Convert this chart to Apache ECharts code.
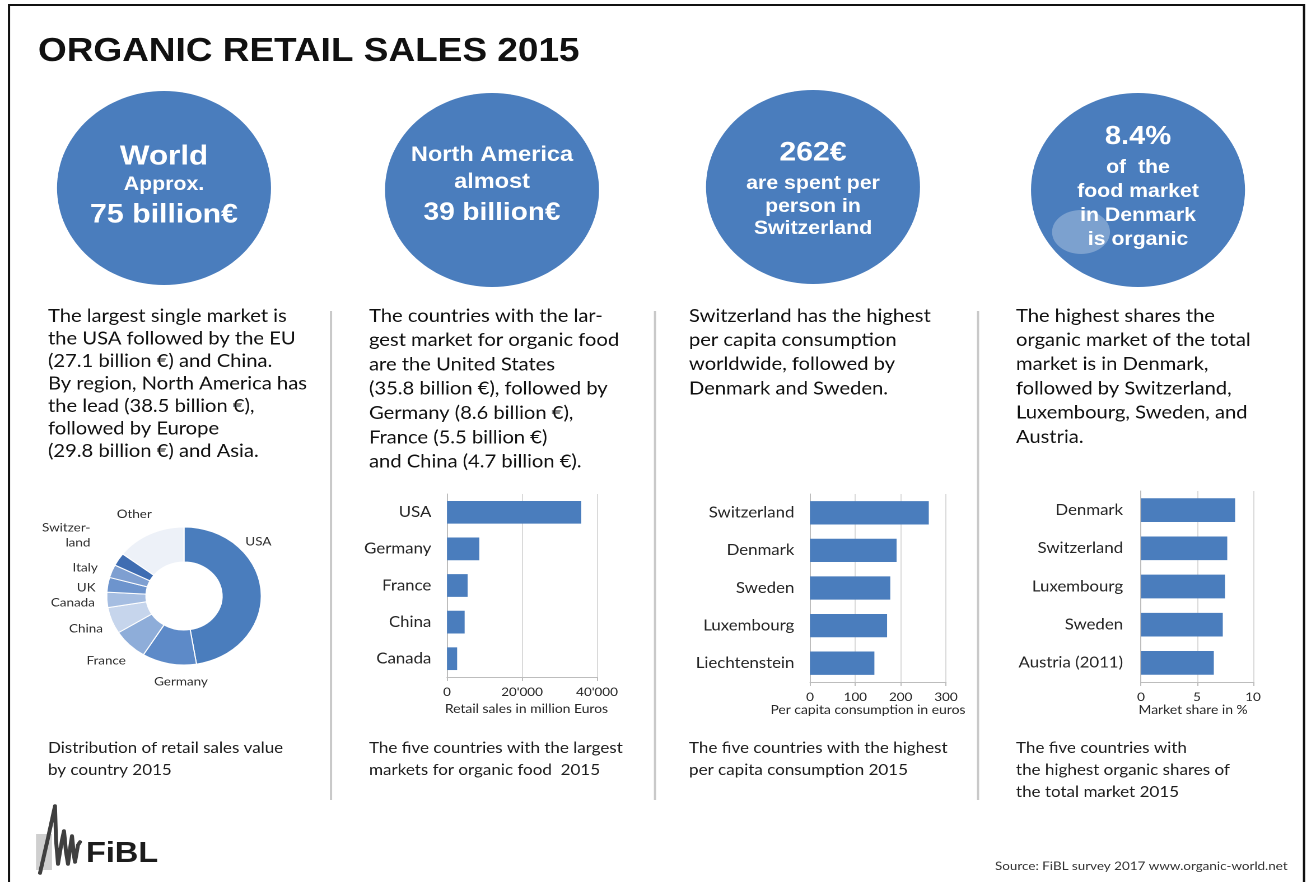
<!DOCTYPE html>
<html>
<head>
<meta charset="utf-8">
<title>Organic retail sales 2015</title>
<script src="https://cdn.jsdelivr.net/npm/echarts@6/dist/echarts.min.js"></script>
<style>
  html, body { margin: 0; padding: 0; background: #fff; overflow: hidden; }
  #chart { height: 882px; transform-origin: 0 0; }
</style>
</head>
<body>
<div id="chart"></div>
<script>
// ---- data ----
// Distribution of retail sales value by country 2015 (billion €)
const pieCountries = ['USA', 'Germany', 'France', 'China', 'Canada', 'UK', 'Italy', 'Switzerland', 'Other'];
const pieLabels = ['USA', 'Germany', 'France', 'China', 'Canada', 'UK', 'Italy', 'Switzer-\nland', 'Other'];
const pieSales = [35.8, 8.6, 5.5, 4.7, 2.7, 2.6, 2.3, 2.3, 11.0];
const pieColors = ['#4a7dbd', '#5d8ac8', '#8eadd9', '#c6d5ec', '#a5bde1', '#6d94cd', '#7e9fd1', '#3f6db2', '#edf1f8'];

// Five largest markets (million €)
const marketCountries = ['USA', 'Germany', 'France', 'China', 'Canada'];
const marketSales = [35800, 8600, 5500, 4700, 2700];
const marketTicks = [0, 20000, 40000];

// Highest per capita consumption (€)
const capitaCountries = ['Switzerland', 'Denmark', 'Sweden', 'Luxembourg', 'Liechtenstein'];
const capitaSpend = [262, 191, 177, 170, 142];
const capitaTicks = [0, 100, 200, 300];

// Highest organic market share (%)
const shareCountries = ['Denmark', 'Switzerland', 'Luxembourg', 'Sweden', 'Austria (2011)'];
const shareValues = [8.4, 7.7, 7.5, 7.3, 6.5];
const shareTicks = [0, 5, 10];

// ---- texts ----
const titleText = 'ORGANIC RETAIL SALES 2015';
const circleTexts = [
  [['World', 28], ['Approx.', 19], ['75 billion€', 27]],
  [['North America', 21], ['almost', 21], ['39 billion€', 25]],
  [['262€', 27], ['are spent per', 19], ['person in', 19], ['Switzerland', 19]],
  [['8.4%', 26], ['of  the', 19], ['food market', 19], ['in Denmark', 19], ['is organic', 19]]
];
const paragraphs = [
  ['The largest single market is', 'the USA followed by the EU', '(27.1 billion €) and China.',
   'By region, North America has', 'the lead (38.5 billion €),', 'followed by Europe', '(29.8 billion €) and Asia.'],
  ['The countries with the lar-', 'gest market for organic food', 'are the United States',
   '(35.8 billion €), followed by', 'Germany (8.6 billion €),', 'France (5.5 billion €)', 'and China (4.7 billion €).'],
  ['Switzerland has the highest', 'per capita consumption', 'worldwide, followed by', 'Denmark and Sweden.'],
  ['The highest shares the', 'organic market of the total', 'market is in Denmark,',
   'followed by Switzerland,', 'Luxembourg, Sweden, and', 'Austria.']
];
const captions = [
  ['Distribution of retail sales value', 'by country 2015'],
  ['The five countries with the largest', 'markets for organic food  2015'],
  ['The five countries with the highest', 'per capita consumption 2015'],
  ['The five countries with', 'the highest organic shares of', 'the total market 2015']
];
const sourceText = 'Source: FiBL survey 2017 www.organic-world.net';

// ---- layout ----
// The poster is laid out on a narrower canvas and widened horizontally.
const SX = 1.12;
const W = 1307 / SX;
const px = v => v / SX;               // page x -> canvas x

const dom = document.getElementById('chart');
dom.style.width = W + 'px';
dom.style.transform = 'scaleX(' + SX + ')';

const BLUE = '#4a7dbd';
const SANS = 'Lato, "Open Sans", sans-serif';
const HEAD = '"Liberation Sans", Arial, sans-serif';

const colX = [48, 369, 689, 1016];
const circleCenters = [[164, 188], [492, 190], [813, 187], [1138, 190]];
const circleLineY = [
  [157, 185, 215],
  [155, 182, 213],
  [153, 184, 207, 229],
  [137, 168, 192, 216, 240]
];
const paraLineH = [22.5, 24.3, 24.2, 24.2];
// nudges for the doughnut labels, in slice order
const pieLabelNudge = [[-31, -48], [42, 6], [6, 7], [2, 0], [0, -9], [2, -7], [2, -10], [-14, -18], [12, -9]];

const graphic = [];

// frame
graphic.push({
  type: 'rect', silent: true,
  shape: { x: px(9), y: 5, width: px(1304) - px(9), height: 900 },
  style: { fill: 'none', stroke: '#111', lineWidth: 2 }
});

// title
graphic.push({
  type: 'text', x: px(38), y: 52,
  style: { text: titleText, font: 'bold 33px ' + HEAD, fill: '#111', align: 'left', verticalAlign: 'middle' }
});

// headline circles
circleCenters.forEach(c => {
  graphic.push({
    type: 'ellipse', silent: true,
    shape: { cx: px(c[0]), cy: c[1], rx: px(107), ry: 97 },
    style: { fill: BLUE }
  });
});
// light spot on the last circle
graphic.push({
  type: 'ellipse', silent: true,
  shape: { cx: px(1081), cy: 232, rx: px(29), ry: 22 },
  style: { fill: 'rgba(255,255,255,0.28)' }
});
circleTexts.forEach((lines, i) => {
  lines.forEach((ln, j) => {
    graphic.push({
      type: 'text', x: px(circleCenters[i][0]), y: circleLineY[i][j],
      style: { text: ln[0], font: 'bold ' + ln[1] + 'px ' + HEAD, fill: '#fff', align: 'center', verticalAlign: 'middle' }
    });
  });
});

// paragraphs
paragraphs.forEach((lines, i) => {
  graphic.push({
    type: 'text', x: px(colX[i]), y: 316 - paraLineH[i] / 2,
    style: {
      text: lines.join('\n'), fontFamily: SANS, fontSize: 18, lineHeight: paraLineH[i],
      fill: '#111', align: 'left', verticalAlign: 'top'
    }
  });
});

// captions
captions.forEach((lines, i) => {
  graphic.push({
    type: 'text', x: px(colX[i]), y: 748 - 11,
    style: {
      text: lines.join('\n'), fontFamily: SANS, fontSize: 15.2, lineHeight: 22,
      fill: '#1e1e1e', align: 'left', verticalAlign: 'top'
    }
  });
});

// column separators
[331, 655, 978].forEach(x => {
  graphic.push({
    type: 'line', silent: true,
    shape: { x1: px(x), y1: 311, x2: px(x), y2: 800 },
    style: { stroke: '#c9c9c9', lineWidth: 2 }
  });
});

// FiBL logo
graphic.push({
  type: 'rect', silent: true,
  shape: { x: px(36), y: 834, width: px(16), height: 36 },
  style: { fill: '#cfcfcf' }
});
graphic.push({
  type: 'polyline', silent: true,
  shape: {
    points: [[40, 873], [48, 838], [55, 806], [56, 840], [58, 864], [62, 840], [64, 831],
             [66, 852], [68, 864], [71, 842], [72, 836], [74, 856], [75, 862], [78, 845], [80, 842]]
      .map(p => [px(p[0]), p[1]])
  },
  style: { stroke: '#3f3f3f', lineWidth: 3.5, lineJoin: 'round', lineCap: 'round' }
});
graphic.push({
  type: 'text', x: px(86), y: 854,
  style: { text: 'FiBL', font: 'bold 29px ' + HEAD, fill: '#1c1c1c', align: 'left', verticalAlign: 'middle' }
});

// source
graphic.push({
  type: 'text', x: px(995), y: 866,
  style: { text: sourceText, fontFamily: SANS, fontSize: 12, fill: '#333', align: 'left', verticalAlign: 'middle' }
});

// ---- bar chart helpers ----
const thousands = v => String(v).replace(/\B(?=(\d{3})+(?!\d))/g, "'");

function catAxis(gridIndex, data, margin) {
  return {
    type: 'category', gridIndex, data, inverse: true,
    axisLine: { show: true, lineStyle: { color: '#bdbdbd', width: 1 } },
    axisTick: { show: false },
    axisLabel: { color: '#262626', fontFamily: SANS, fontSize: 15, margin }
  };
}
function valAxis(gridIndex, ticks, name, nameGap, namePad, fmt) {
  return {
    type: 'value', gridIndex,
    min: ticks[0], max: ticks[ticks.length - 1], interval: ticks[1] - ticks[0],
    name, nameLocation: 'middle', nameGap,
    nameTextStyle: { color: '#262626', fontFamily: SANS, fontSize: 12.4, padding: namePad },
    axisLine: { show: true, lineStyle: { color: '#bdbdbd', width: 1 } },
    axisTick: { show: true, length: 4, lineStyle: { color: '#bdbdbd' } },
    axisLabel: { color: '#262626', fontFamily: SANS, fontSize: 12, margin: 9, formatter: fmt },
    splitLine: { show: true, lineStyle: { color: '#dadada', width: 1 } }
  };
}
function barSeries(idx, values) {
  return {
    type: 'bar', xAxisIndex: idx, yAxisIndex: idx, data: values,
    barCategoryGap: '38%', itemStyle: { color: BLUE }, silent: true
  };
}

const option = {
  animation: false,
  backgroundColor: '#fff',
  grid: [
    { left: px(447), width: px(597) - px(447), top: 494, height: 183 },
    { left: px(810), width: px(946) - px(810), top: 494, height: 188 },
    { left: px(1141), width: px(1253) - px(1141), top: 491, height: 191 }
  ],
  yAxis: [
    catAxis(0, marketCountries, 14),
    catAxis(1, capitaCountries, 14),
    catAxis(2, shareCountries, 16)
  ],
  xAxis: [
    valAxis(0, marketTicks, 'Retail sales in million Euros', 26, [0, 0, 0, 8], v => thousands(v)),
    valAxis(1, capitaTicks, 'Per capita consumption in euros', 22, [0, 18, 0, 0], v => String(v)),
    valAxis(2, shareTicks, 'Market share in %', 22, [0, 7, 0, 0], v => String(v))
  ],
  series: [
    barSeries(0, marketSales),
    barSeries(1, capitaSpend),
    barSeries(2, shareValues),
    {
      type: 'pie',
      center: [px(184), 596],
      radius: [34, 69],
      startAngle: 90,
      clockwise: true,
      silent: true,
      avoidLabelOverlap: true,
      itemStyle: { borderColor: '#fff', borderWidth: 1 },
      label: {
        show: true, position: 'outside', color: '#2e2e2e', fontFamily: SANS, fontSize: 12,
        lineHeight: 15,
        formatter: p => pieLabels[p.dataIndex]
      },
      labelLine: { show: false, length: 12, length2: 0 },
      labelLayout: p => {
        const n = pieLabelNudge[p.dataIndex] || [0, 0];
        return { dx: n[0], dy: n[1] };
      },
      data: pieCountries.map((name, i) => ({ name, value: pieSales[i], itemStyle: { color: pieColors[i] } }))
    }
  ],
  graphic
};

const chart = echarts.init(dom, null, { renderer: 'canvas', devicePixelRatio: 2 });
chart.setOption(option);
</script>
</body>
</html>
